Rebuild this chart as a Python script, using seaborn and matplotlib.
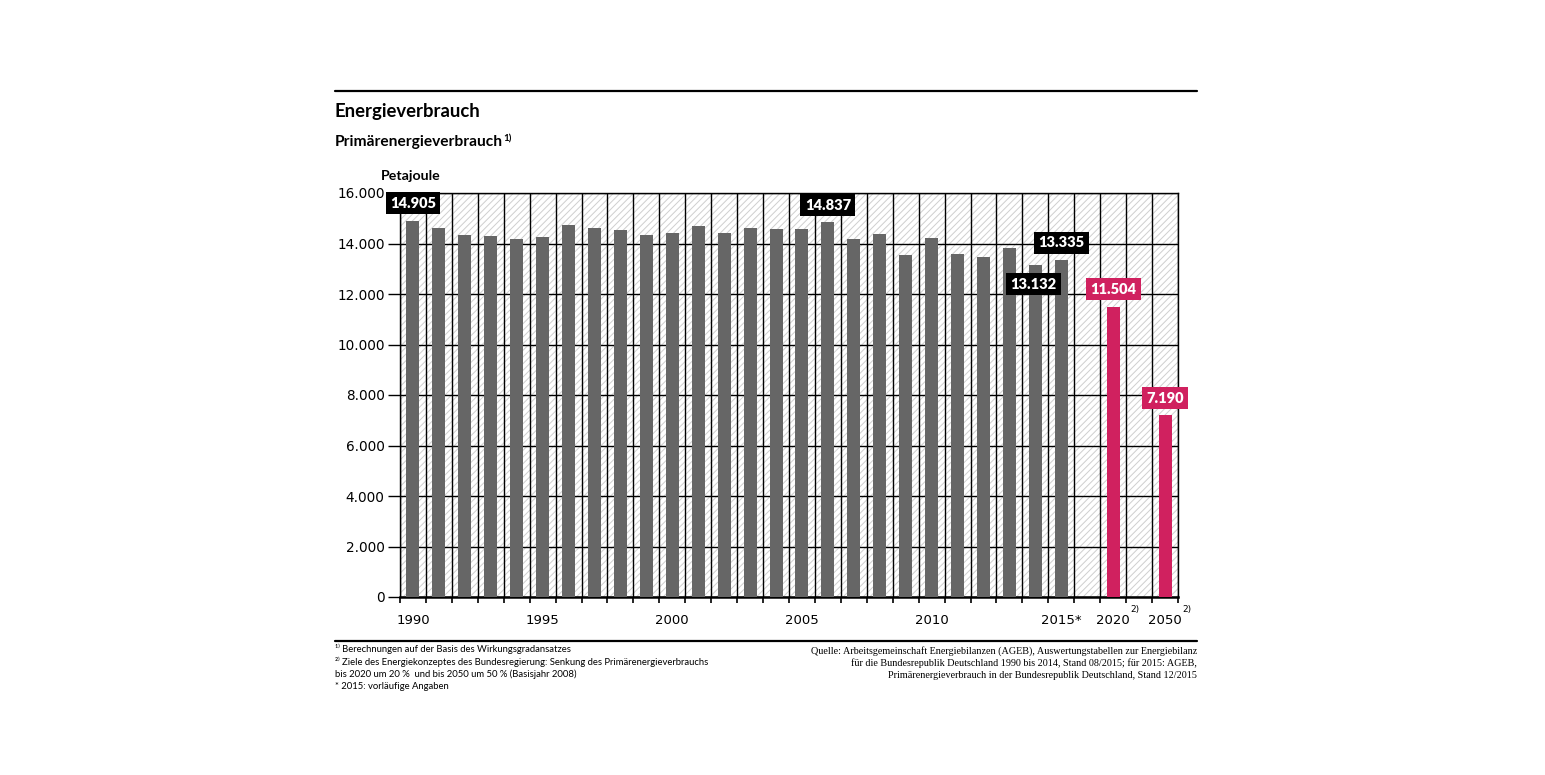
import pandas as pd
import seaborn as sns
import matplotlib.pyplot as plt
import matplotlib.ticker as ticker
import matplotlib.transforms as mtransforms
from matplotlib.lines import Line2D

# data
hist_years = [str(y) for y in range(1990, 2016)]
hist_values = [14905, 14610, 14319, 14309, 14185, 14269, 14746, 14614, 14521, 14324,
               14401, 14679, 14427, 14600, 14578, 14558, 14837, 14197, 14380, 13531,
               14217, 13599, 13447, 13822, 13132, 13335]
target_years = ['2020', '2050']
target_values = [11504, 7190]
slot_order = hist_years + ['gap1', '2020', 'gap2', '2050']
tick_pos = [0, 5, 10, 15, 20, 25, 27, 29]
tick_labels = ['1990', '1995', '2000', '2005', '2010', '2015*', '2020', '2050']
labelled = {'1990': 'above', '2006': 'above', '2014': 'below', '2015': 'above',
            '2020': 'above', '2050': 'above'}

GREY = '#666666'
PINK = '#D0215F'

df = pd.DataFrame({
    'slot': hist_years + target_years,
    'value': hist_values + target_values,
    'kind': ['Ist'] * len(hist_years) + ['Ziel'] * len(target_years),
})

sns.set_style('white')
plt.rcParams['font.family'] = ['DejaVu Sans']
plt.rcParams['text.color'] = 'black'
plt.rcParams['xtick.labelcolor'] = 'black'
plt.rcParams['ytick.labelcolor'] = 'black'
plt.rcParams['hatch.color'] = '#cfcfcf'
plt.rcParams['hatch.linewidth'] = 0.7

W, H = 1545, 775
fig = plt.figure(figsize=(W / 100, H / 100), dpi=100)
ax = fig.add_axes([400 / W, 1 - 597 / H, 778 / W, 404 / H])

def fx(px):
    return px / W

def fy(py):
    return 1 - py / H

# hatched background
ax.axvspan(-0.5, 29.5, facecolor='white', edgecolor='#cfcfcf', hatch='/////',
           linewidth=0, zorder=0)

sns.barplot(data=df, x='slot', y='value', hue='kind', order=slot_order,
            palette={'Ist': GREY, 'Ziel': PINK}, width=0.5, dodge=False,
            saturation=1, legend=False, ax=ax, zorder=3, edgecolor='none', linewidth=0)

ax.set_xlim(-0.5, 29.5)
ax.set_ylim(0, 16000)
ax.set_yticks(range(0, 16001, 2000))
ax.yaxis.set_major_formatter(ticker.FuncFormatter(lambda v, p: f"{v:,.0f}".replace(',', '.')))
ax.set_xticks(tick_pos)
ax.set_xticklabels(tick_labels)
ax.set_xticks([i - 0.5 for i in range(31)], minor=True)
ax.set_xlabel('')
ax.set_ylabel('')

ax.grid(True, axis='y', which='major', color='black', linewidth=1, zorder=1)
ax.grid(True, axis='x', which='minor', color='black', linewidth=1, zorder=1)
ax.grid(False, axis='x', which='major')
ax.set_axisbelow(True)

ax.tick_params(axis='y', length=9, width=1, color='black', pad=2, labelsize=9.8,
               direction='out', left=True, labelcolor='black')
ax.tick_params(axis='x', which='major', length=0, pad=12, labelsize=9.5, labelcolor='black')
ax.tick_params(axis='x', which='minor', length=4, width=1.2, color='black',
               direction='out', bottom=True)
for s in ['top', 'right', 'left']:
    ax.spines[s].set_visible(True)
    ax.spines[s].set_linewidth(1)
    ax.spines[s].set_color('black')
ax.spines['bottom'].set_linewidth(1.8)
ax.spines['bottom'].set_color('black')

# superscripts on target years
blend = mtransforms.blended_transform_factory(ax.transData, ax.transAxes)
for pos in [27, 29]:
    ax.text(pos + 0.85, -0.03, '2)', transform=blend, fontsize=6.5, color='black',
            ha='center', va='center', clip_on=False)

# value boxes
slot_index = {s: i for i, s in enumerate(slot_order)}
value_of = dict(zip(df['slot'], df['value']))
for year, where in labelled.items():
    val = value_of[year]
    color = PINK if year in target_years else 'black'
    dx = -1.5 if where == 'below' else 0
    dy = -13.5 if where == 'below' else 12.5
    ax.annotate(f"{val:,.0f}".replace(',', '.'), xy=(slot_index[year], val),
                xytext=(dx, dy), textcoords='offset points', ha='center', va='center',
                color='white', fontsize=10.5, fontweight='heavy', family=['Lato', 'DejaVu Sans'],
                bbox=dict(boxstyle='square,pad=0.3', facecolor=color, edgecolor='none'),
                zorder=5, annotation_clip=False)

# header
fig.add_artist(Line2D([fx(335), fx(1197)], [fy(91), fy(91)], color='black', linewidth=1.6))
fig.text(fx(335), fy(112), 'Energieverbrauch', fontsize=13.3, fontweight='bold',
         family=['Lato', 'DejaVu Sans'], ha='left', va='center', color='black')
fig.text(fx(335), fy(142), 'Primärenergieverbrauch', fontsize=11.2, fontweight='bold',
         family=['Lato', 'DejaVu Sans'], ha='left', va='center', color='black')
fig.text(fx(503), fy(139), '1)', fontsize=7, fontweight='bold',
         family=['Lato', 'DejaVu Sans'], ha='left', va='center', color='black')
fig.text(fx(381), fy(176), 'Petajoule', fontsize=10.2, fontweight='bold',
         family=['Lato', 'DejaVu Sans'], ha='left', va='center', color='black')

# footer
fig.add_artist(Line2D([fx(335), fx(1197)], [fy(641), fy(641)], color='black', linewidth=1.6))
notes = ['¹⁾ Berechnungen auf der Basis des Wirkungsgradansatzes',
         '²⁾ Ziele des Energiekonzeptes des Bundesregierung: Senkung des Primärenergieverbrauchs',
         'bis 2020 um 20 %  und bis 2050 um 50 % (Basisjahr 2008)',
         '* 2015: vorläufige Angaben']
for i, line in enumerate(notes):
    fig.text(fx(335), fy(649 + i * 12.5), line, fontsize=6.8, color='black',
             family=['Lato', 'DejaVu Sans'], ha='left', va='center')
source = ['Quelle: Arbeitsgemeinschaft Energiebilanzen (AGEB), Auswertungstabellen zur Energiebilanz',
          'für die Bundesrepublik Deutschland 1990 bis 2014, Stand 08/2015; für 2015: AGEB,',
          'Primärenergieverbrauch in der Bundesrepublik Deutschland, Stand 12/2015']
for i, line in enumerate(source):
    fig.text(fx(1197), fy(651 + i * 12.3), line, fontsize=7.3, color='black',
             family=['Liberation Serif', 'DejaVu Serif'], ha='right', va='center')

fig.savefig('out.png', dpi=100)
